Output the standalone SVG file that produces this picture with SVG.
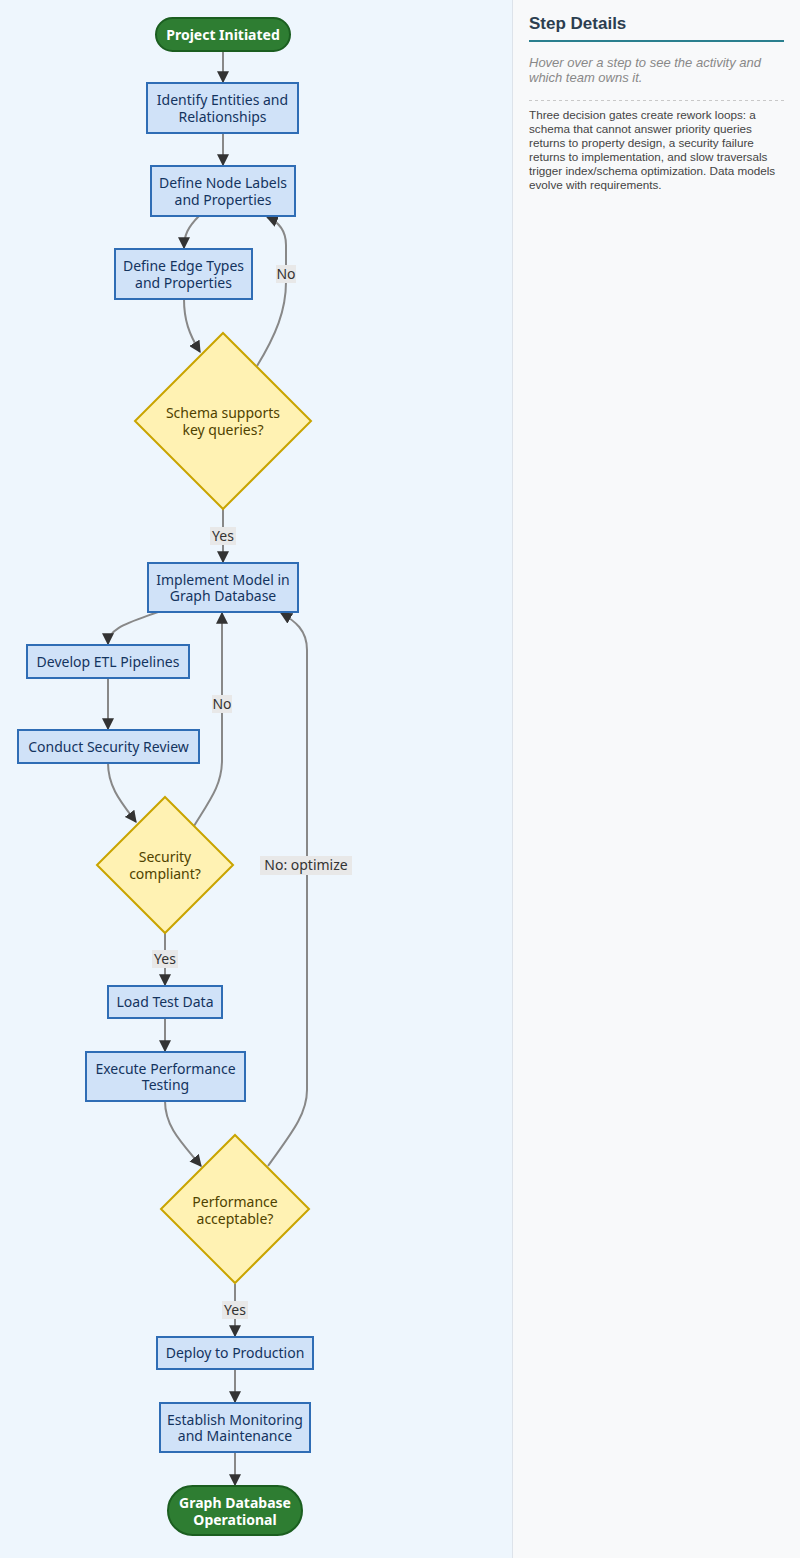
<svg xmlns="http://www.w3.org/2000/svg" width="800" height="1560" viewBox="0 0 800 1560">
<style>
.proc rect{fill:#d0e2f8;stroke:#2f6db5;stroke-width:2}
.proc text{fill:#14345f;font-family:"Noto Sans",sans-serif;font-size:14px;text-anchor:middle}
.dec polygon{fill:#fff2b3;stroke:#c9a400;stroke-width:2}
.dec text{fill:#4f4200;font-family:"Noto Sans",sans-serif;font-size:14px;text-anchor:middle}
.term rect{fill:#2e7d32;stroke:#1b5e20;stroke-width:2}
.term text{fill:#ffffff;font-family:"Noto Sans",sans-serif;font-size:14px;font-weight:bold;text-anchor:middle}
.edges path{fill:none;stroke:#888;stroke-width:2;marker-end:url(#arr)}
.lbl rect{fill:#e8e8e8}
.lbl text{fill:#333;font-family:"Noto Sans",sans-serif;font-size:14px;text-anchor:middle}
.side{font-family:"Liberation Sans",Arial,sans-serif}
</style>
<defs>
<marker id="arr" viewBox="0 0 10 10" refX="9" refY="5" markerUnits="userSpaceOnUse" markerWidth="12" markerHeight="12" orient="auto">
<path d="M0,0 L10,5 L0,10 z" fill="#333"/>
</marker>
</defs>
<rect x="0" y="0" width="800" height="1560" fill="#ffffff"/>
<rect x="0" y="0" width="512" height="1558" fill="#eef6fd"/>
<rect x="512" y="0" width="288" height="1558" fill="#f8f9fa"/>
<line x1="512.5" y1="0" x2="512.5" y2="1558" stroke="#dde3ea" stroke-width="1"/>

<g class="side">
<text x="529" y="29" font-size="17" font-weight="bold" fill="#2c3e50">Step Details</text>
<line x1="529" y1="41" x2="784" y2="41" stroke="#2a7f8e" stroke-width="2"/>
<text font-size="13" font-style="italic" fill="#888"><tspan x="529" y="67">Hover over a step to see the activity and</tspan><tspan x="529" y="82">which team owns it.</tspan></text>
<line x1="529" y1="100.5" x2="784" y2="100.5" stroke="#c8c8c8" stroke-width="1" stroke-dasharray="3,3"/>
<text font-size="11.7" fill="#444"><tspan x="529" y="119">Three decision gates create rework loops: a</tspan><tspan x="529" y="133">schema that cannot answer priority queries</tspan><tspan x="529" y="147">returns to property design, a security failure</tspan><tspan x="529" y="161">returns to implementation, and slow traversals</tspan><tspan x="529" y="175">trigger index/schema optimization. Data models</tspan><tspan x="529" y="189">evolve with requirements.</tspan></text>
</g>

<g class="edges">
<path d="M223,51 L223,82"/>
<path d="M223,133 L223,165"/>
<path d="M199,216 C188,227 184,235 184,248"/>
<path d="M184,299 C184,320 189,334 200,352"/>
<path d="M257,366 C276,335 286,310 286,282 L286,245 C286,230 279,222 267,217"/>
<path d="M223,509 L223,562"/>
<path d="M158,612 C128,623 108,628 108,644"/>
<path d="M108,678 L108,729"/>
<path d="M108,763 C108,787 121,802 136,822"/>
<path d="M194,826 C210,800 222,785 222,760 L222,613"/>
<path d="M165,933 L165,985"/>
<path d="M165,1018 L165,1051"/>
<path d="M165,1101 C165,1127 182,1143 201,1166"/>
<path d="M268,1166 C290,1135 307,1115 307,1090 L307,650 C307,630 295,621 281,613"/>
<path d="M235,1284 L235,1336"/>
<path d="M235,1369 L235,1402"/>
<path d="M235,1452 L235,1485"/>
</g>

<g id="edge-labels">
<g class="lbl"><rect x="276" y="265" width="20" height="18"/><text x="286" y="279">No</text></g>
<g class="lbl"><rect x="210" y="527" width="26" height="18"/><text x="223" y="541">Yes</text></g>
<g class="lbl"><rect x="212" y="695" width="20" height="18"/><text x="222" y="709">No</text></g>
<g class="lbl"><rect x="152" y="950" width="26" height="18"/><text x="165" y="964">Yes</text></g>
<g class="lbl"><rect x="260" y="856" width="92" height="19"/><text x="306" y="870">No: optimize</text></g>
<g class="lbl"><rect x="222" y="1301" width="26" height="18"/><text x="235" y="1315">Yes</text></g>
</g>

<g id="n-start" class="term"><rect x="156" y="18" width="134" height="33" rx="16.5"/><text x="223" y="40">Project Initiated</text></g>
<g id="n-identify" class="proc"><rect x="147" y="83" width="151" height="50"/><text x="222.5" y="105">Identify Entities and</text><text x="222.5" y="122">Relationships</text></g>
<g id="n-nodes" class="proc"><rect x="151" y="166" width="144" height="50"/><text x="223" y="188">Define Node Labels</text><text x="223" y="205">and Properties</text></g>
<g id="n-edges" class="proc"><rect x="115" y="249" width="137" height="50"/><text x="183.5" y="271">Define Edge Types</text><text x="183.5" y="288">and Properties</text></g>
<g id="n-schema" class="dec"><polygon points="223,333 311,421 223,509 135,421"/><text x="223" y="418">Schema supports</text><text x="223" y="435">key queries?</text></g>
<g id="n-implement" class="proc"><rect x="148" y="563" width="150" height="49"/><text x="223" y="585">Implement Model in</text><text x="223" y="601">Graph Database</text></g>
<g id="n-etl" class="proc"><rect x="27" y="645" width="162" height="33"/><text x="108" y="667">Develop ETL Pipelines</text></g>
<g id="n-security" class="proc"><rect x="18" y="730" width="181" height="33"/><text x="108.5" y="752">Conduct Security Review</text></g>
<g id="n-compliant" class="dec"><polygon points="165,797 233,865 165,933 97,865"/><text x="165" y="862">Security</text><text x="165" y="879">compliant?</text></g>
<g id="n-load" class="proc"><rect x="108" y="986" width="114" height="32"/><text x="165" y="1007">Load Test Data</text></g>
<g id="n-perf" class="proc"><rect x="86" y="1052" width="159" height="49"/><text x="165.5" y="1074">Execute Performance</text><text x="165.5" y="1090">Testing</text></g>
<g id="n-acceptable" class="dec"><polygon points="235,1135 309,1209 235,1283 161,1209"/><text x="235" y="1207">Performance</text><text x="235" y="1224">acceptable?</text></g>
<g id="n-deploy" class="proc"><rect x="157" y="1337" width="156" height="32"/><text x="235" y="1358">Deploy to Production</text></g>
<g id="n-monitor" class="proc"><rect x="160" y="1403" width="150" height="49"/><text x="235" y="1425">Establish Monitoring</text><text x="235" y="1441">and Maintenance</text></g>
<g id="n-end" class="term"><rect x="168" y="1486" width="134" height="49" rx="24.5"/><text x="235" y="1508">Graph Database</text><text x="235" y="1525">Operational</text></g>
</svg>
